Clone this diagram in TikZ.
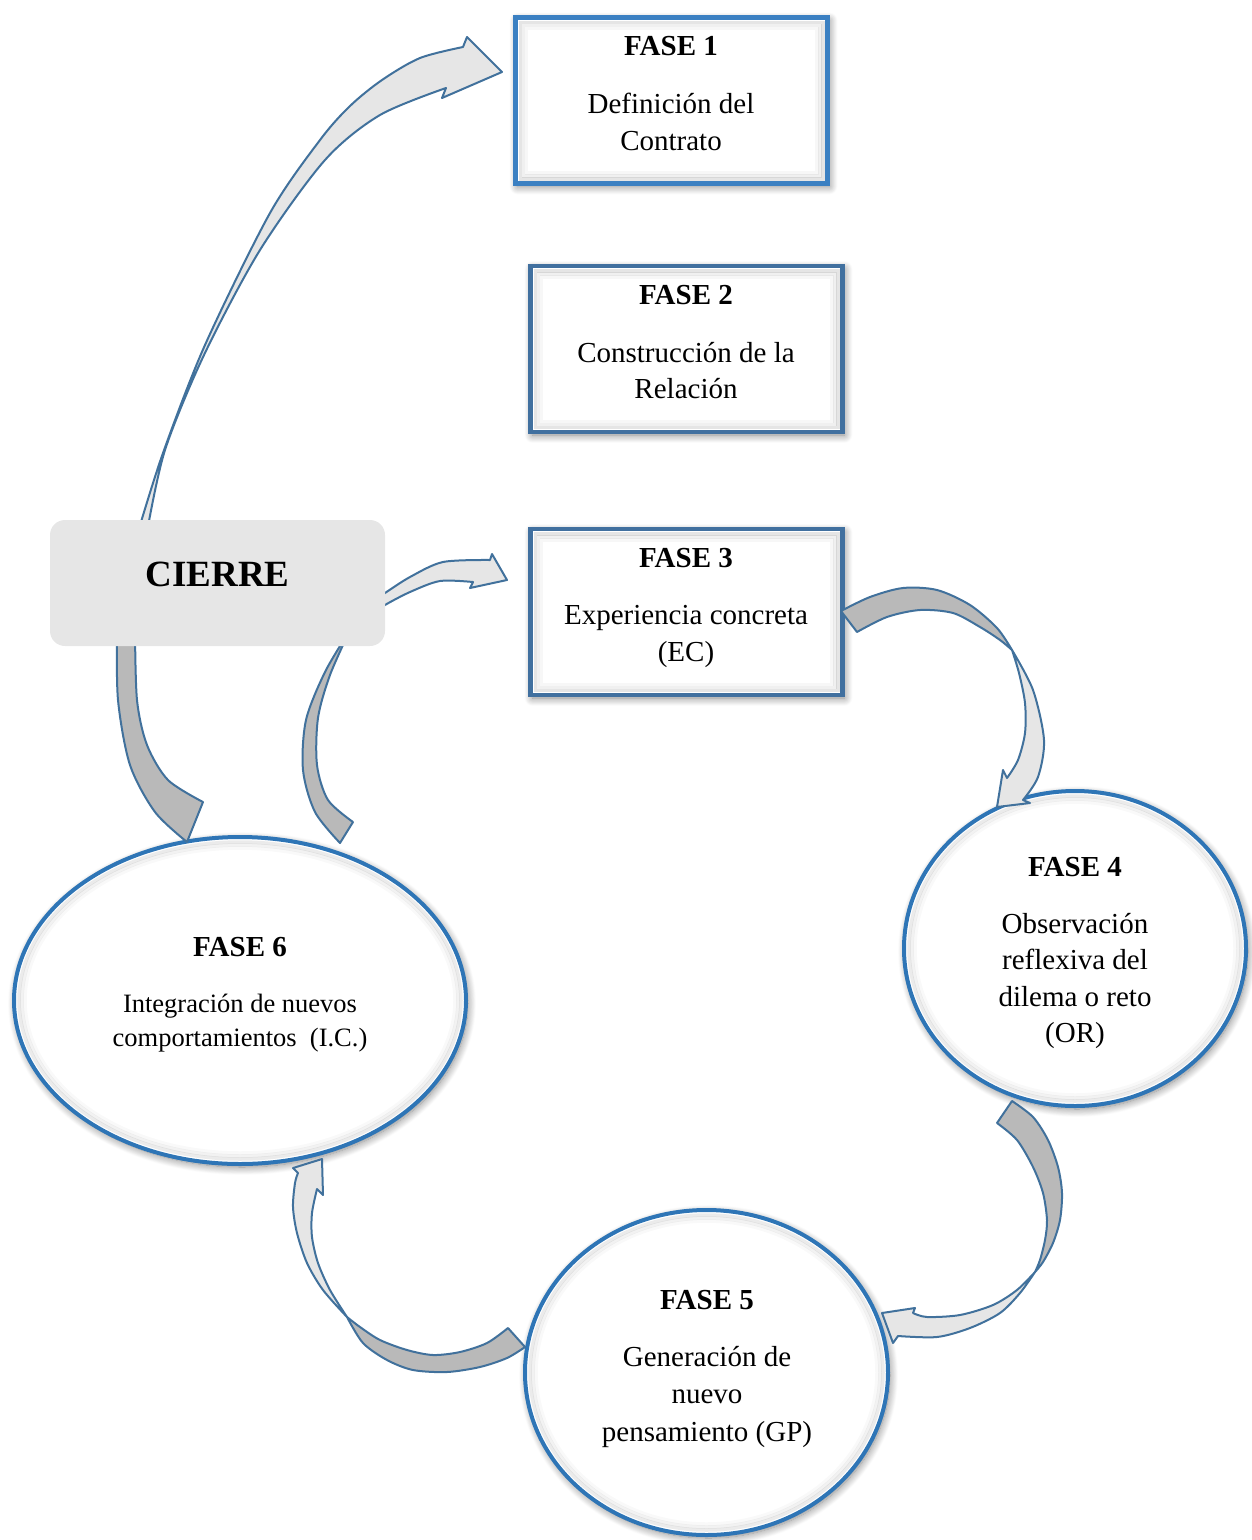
\documentclass[tikz,border=0pt]{standalone}
\usepackage{fontspec}
\setmainfont{Liberation Serif}
\usetikzlibrary{shapes.geometric,shadows.blur}

\definecolor{boxblueA}{HTML}{3B80C2}
\definecolor{boxblueB}{HTML}{41709F}
\definecolor{ovalblue}{HTML}{2E75B6}
\definecolor{ribbonline}{HTML}{41719C}
\definecolor{ribbondarkfill}{HTML}{B9B9B9}
\definecolor{ribbonlightfill}{HTML}{E6E6E6}
\definecolor{closefill}{HTML}{E6E6E6}

% soft inner shadow along the inside of a rectangular node border
\newcommand{\boxinnershade}[1]{%
  \foreach \ins/\op in {7/0.10,10/0.06,13/0.03}{%
    \draw[draw=black,opacity=\op,line width=3.5pt]
      ([xshift=\ins pt,yshift=-\ins pt]#1.north west) rectangle ([xshift=-\ins pt,yshift=\ins pt]#1.south east);}}
% soft inner shadow along the inside of an oval node border
\newcommand{\ovalinnershade}[3]{%
  \foreach \ins/\op in {5/0.08,8/0.05,11/0.025}{%
    \draw[draw=black,opacity=\op,line width=3.5pt]
      (#1.center) ellipse [x radius=#2pt-\ins pt,y radius=#3pt-\ins pt];}}

\begin{document}
\begin{tikzpicture}[x=1pt,y=-1pt,
  softshadow/.style={blur shadow={shadow xshift=2pt,shadow yshift=-3pt,
      shadow blur radius=8pt,shadow blur steps=12,shadow opacity=50}},
  phasebox/.style={draw=#1,line width=4.5pt,fill=white,
      minimum width=312pt,minimum height=166pt,inner sep=0pt,softshadow},
  phaseoval/.style={ellipse,draw=ovalblue,line width=4pt,fill=white,
      inner sep=0pt,softshadow},
  phasetitle/.style={anchor=base,inner sep=0pt,font=\fontsize{29}{35}\selectfont\bfseries},
  phasetext/.style={anchor=base,inner sep=0pt,font=\fontsize{29}{35}\selectfont},
  phasesmall/.style={anchor=base,inner sep=0pt,font=\fontsize{26.5}{32}\selectfont},
  ribbondark/.style={fill=ribbondarkfill,draw=ribbonline,line width=2pt,line join=round},
  ribbonlight/.style={fill=ribbonlightfill,draw=ribbonline,line width=2pt,line join=round},
  closebox/.style={fill=closefill,rounded corners=15pt,minimum width=335pt,
      minimum height=126pt,inner sep=0pt}]

\useasboundingbox (0,0) rectangle (1251,1540);

% ---- rectangular phases ----
\node[phasebox=boxblueA] (f1) at (671.5,100.5) {};
\boxinnershade{f1}
\node[phasetitle] (f1t) at (671,55) {FASE 1};
\node[phasetext] (f1a) at (671,113) {Definición del};
\node[phasetext] (f1b) at (671,150) {Contrato};

\node[phasebox=boxblueB] (f2) at (686.5,349) {};
\boxinnershade{f2}
\node[phasetitle] (f2t) at (686,304) {FASE 2};
\node[phasetext] (f2a) at (686,362) {Construcción de la};
\node[phasetext] (f2b) at (686,398) {Relación};

\node[phasebox=boxblueB] (f3) at (686.5,612) {};
\boxinnershade{f3}
\node[phasetitle] (f3t) at (686,567) {FASE 3};
\node[phasetext] (f3a) at (686,624) {Experiencia concreta};
\node[phasetext] (f3b) at (686,661) {(EC)};

% ---- oval phases ----
\node[phaseoval,minimum width=342pt,minimum height=315pt] (f4) at (1075,948.5) {};
\ovalinnershade{f4}{171}{157.5}
\node[phasetitle] (f4t) at (1075,876) {FASE 4};
\node[phasetext] (f4a) at (1075,933) {Observación};
\node[phasetext] (f4b) at (1075,969) {reflexiva del};
\node[phasetext] (f4c) at (1075,1006) {dilema o reto};
\node[phasetext] (f4d) at (1075,1042) {(OR)};

\node[phaseoval,minimum width=363pt,minimum height=325pt] (f5) at (706.5,1372.5) {};
\ovalinnershade{f5}{181.5}{162.5}
\node[phasetitle] (f5t) at (707,1309) {FASE 5};
\node[phasetext] (f5a) at (707,1366) {Generación de};
\node[phasetext] (f5b) at (707,1403) {nuevo};
\node[phasetext] (f5c) at (707,1441) {pensamiento (GP)};

\node[phaseoval,minimum width=452pt,minimum height=327pt] (f6) at (240,1000.5) {};
\ovalinnershade{f6}{226}{163.5}
\node[phasetitle] (f6t) at (240,956) {FASE 6};
\node[phasesmall] (f6a) at (240,1012) {Integración de nuevos};
\node[phasesmall] (f6b) at (240,1046) {comportamientos\ \ (I.C.)};

% ---- curved ribbon arrows ----
% closing stage up to phase 1
\filldraw[ribbonlight] plot[smooth] coordinates {(147,532) (165,450) (204,355) (260,250) (325,160) (380,115) (446,88)}
  -- (442,98) -- (502,72) -- (467,37) -- (463,47)
  -- plot[smooth] coordinates {(463,47) (420,58) (382,80) (350,106) (320,140) (270,213) (205,345) (163,453) (138,532)} -- cycle;

% closing stage to phase 3
\filldraw[ribbonlight] plot[smooth] coordinates {(376,612) (385,605) (410,592) (440,581) (473,582)}
  -- (470,588) -- (507,580) -- (492,554) -- (490,560)
  -- plot[smooth] coordinates {(490,560) (443,562) (410,577) (385,593) (376,599)} -- cycle;

% phase 6 up to the closing stage
\filldraw[ribbondark] plot[smooth] coordinates {(117,630) (118,700) (130,765) (155,812) (187,842)}
  -- (203,802)
  -- plot[smooth] coordinates {(203,802) (168,780) (147,745) (137,700) (135,630)} -- cycle;
\filldraw[ribbondark] plot[smooth] coordinates {(350,630) (325,672) (306,720) (303,770) (315,812) (340,843)}
  -- (353,822)
  -- plot[smooth] coordinates {(353,822) (328,800) (317,765) (318,718) (330,675) (350,630)} -- cycle;

% phase 3 to phase 4
\filldraw[ribbondark] plot[smooth] coordinates {(841,611) (870,597) (903,588) (937,590) (970,605) (997,628) (1012,650)}
  -- plot[smooth] coordinates {(1012,650) (1000,640) (980,627) (953,613) (920,610) (887,617) (857,632)} -- cycle;
\filldraw[ribbonlight] plot[smooth] coordinates {(1012,650) (1033,690) (1044,740) (1038,777) (1023,800)}
  -- (1030,803) -- (997,807) -- (1003,770) -- (1007,778)
  -- plot[smooth] coordinates {(1007,778) (1018,760) (1025,733) (1025,703) (1019,673) (1012,650)} -- cycle;

% phase 4 to phase 5
\filldraw[ribbondark] plot[smooth] coordinates {(1012,1101) (1033,1117) (1048,1140) (1058,1167) (1062,1193) (1060,1220) (1053,1243) (1043,1262) (1035,1272)}
  -- plot[smooth] coordinates {(1035,1272) (1040,1260) (1045,1240) (1047,1220) (1043,1193) (1033,1167) (1017,1140) (997,1123)} -- cycle;
\filldraw[ribbonlight] plot[smooth] coordinates {(1035,1272) (1020,1293) (1000,1313) (970,1328) (937,1337) (898,1336)}
  -- (893,1343) -- (882,1313) -- (915,1308) -- (913,1313)
  -- plot[smooth] coordinates {(913,1313) (927,1317) (960,1315) (993,1305) (1017,1290) (1035,1272)} -- cycle;

% phase 5 to phase 6
\filldraw[ribbondark] plot[smooth] coordinates {(508,1328) (487,1343) (460,1352) (433,1355) (407,1350) (380,1340) (360,1327) (347,1317)}
  -- plot[smooth] coordinates {(347,1317) (363,1343) (387,1360) (413,1370) (447,1372) (480,1367) (507,1358) (525,1347)} -- cycle;
\filldraw[ribbonlight] plot[smooth] coordinates {(347,1317) (323,1290) (307,1263) (297,1233) (293,1207) (295,1183) (298,1173)}
  -- (293,1168) -- (322,1159) -- (323,1195) -- (317,1189)
  -- plot[smooth] coordinates {(317,1189) (312,1213) (312,1237) (318,1263) (330,1290) (347,1317)} -- cycle;

% ---- closing stage ----
\node[closebox] (cierre) at (217.5,583) {};
\node[anchor=base,inner sep=0pt,font=\fontsize{37}{44}\selectfont\bfseries] (cierret) at (217.5,586) {CIERRE};

\end{tikzpicture}
\end{document}
